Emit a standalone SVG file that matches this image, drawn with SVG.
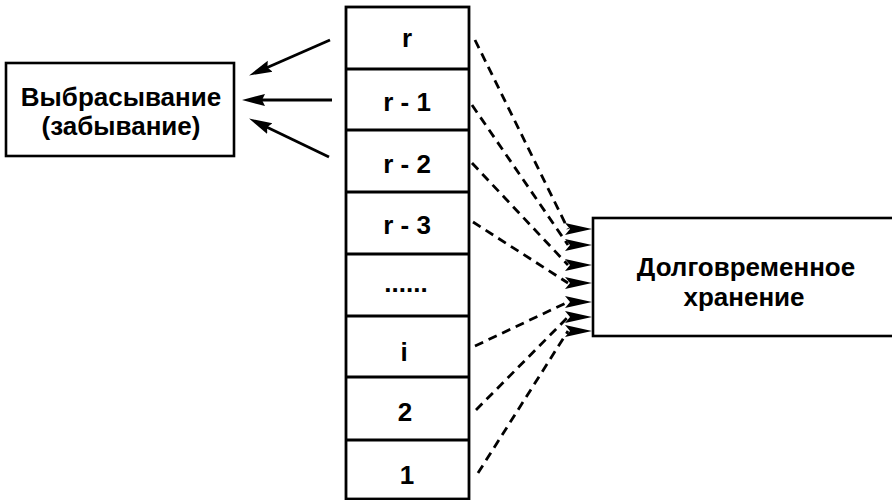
<svg xmlns="http://www.w3.org/2000/svg" width="892" height="500" viewBox="0 0 892 500">
  <style>
    .box { fill: #fff; stroke: #000; stroke-width: 2.6; }
    .cell { fill: none; stroke: #000; stroke-width: 2.8; }
    .lbl { font-family: "Liberation Sans", Arial, sans-serif; font-weight: bold; font-size: 26px; fill: #000; text-anchor: middle; }
    .cl { font-family: "Liberation Sans", Arial, sans-serif; font-weight: bold; font-size: 26px; fill: #000; text-anchor: middle; }
    .solid { stroke: #000; stroke-width: 2.8; fill: none; marker-end: url(#ahL); }
    .dash { stroke: #000; stroke-width: 2.8; fill: none; stroke-dasharray: 9 6; marker-end: url(#ahR); }
  </style>
  <defs>
    <marker id="ahL" markerUnits="userSpaceOnUse" markerWidth="28" markerHeight="16" viewBox="0 -8 28 16" refX="10" refY="0" orient="auto">
      <path d="M0,-6 L23,0 L0,6 L3,0 Z" fill="#000"/>
    </marker>
    <marker id="ahR" markerUnits="userSpaceOnUse" markerWidth="30" markerHeight="16" viewBox="0 -8 30 16" refX="3" refY="0" orient="0">
      <path d="M0,-6 L27,0 L0,6 L5,0 Z" fill="#000"/>
    </marker>
  </defs>

  <g id="discard">
    <rect class="box" x="6" y="63" width="228" height="93"/>
    <text class="lbl" x="121" y="105.5">Выбрасывание</text>
    <text class="lbl" x="121" y="135">(забывание)</text>
  </g>

  <g id="longterm">
    <rect class="box" x="593" y="218" width="310" height="118"/>
    <text class="lbl" x="746" y="276">Долговременное</text>
    <text class="lbl" x="744" y="305.5">хранение</text>
  </g>

  <g id="stack">
    <rect class="cell" x="346" y="7" width="123" height="492"/>
    <line class="cell" x1="346" y1="69" x2="469" y2="69"/>
    <line class="cell" x1="346" y1="130" x2="469" y2="130"/>
    <line class="cell" x1="346" y1="192" x2="469" y2="192"/>
    <line class="cell" x1="346" y1="254" x2="469" y2="254"/>
    <line class="cell" x1="346" y1="316" x2="469" y2="316"/>
    <line class="cell" x1="346" y1="377" x2="469" y2="377"/>
    <line class="cell" x1="346" y1="440" x2="469" y2="440"/>
  </g>
  <g id="cell-r"><text class="cl" x="407" y="47">r</text></g>
  <g id="cell-r1"><text class="cl" x="407" y="111">r - 1</text></g>
  <g id="cell-r2"><text class="cl" x="407" y="173">r - 2</text></g>
  <g id="cell-r3"><text class="cl" x="407" y="234">r - 3</text></g>
  <g id="cell-dots"><text class="cl" x="406" y="292">......</text></g>
  <g id="cell-i"><text class="cl" x="404" y="361">i</text></g>
  <g id="cell-2"><text class="cl" x="405" y="421">2</text></g>
  <g id="cell-1"><text class="cl" x="407" y="484">1</text></g>

  <g id="connectors">
    <line class="solid" x1="330" y1="40" x2="261" y2="70.2"/>
    <line class="solid" x1="332" y1="100" x2="255" y2="100"/>
    <line class="solid" x1="329" y1="157" x2="260.8" y2="124.2"/>

    <line class="dash" x1="475" y1="40" x2="568" y2="229"/>
    <line class="dash" x1="472" y1="105" x2="568" y2="245"/>
    <line class="dash" x1="472" y1="163" x2="568" y2="265"/>
    <line class="dash" x1="473" y1="222" x2="568" y2="283"/>
    <line class="dash" x1="475" y1="346" x2="568" y2="302"/>
    <line class="dash" x1="476" y1="410" x2="568" y2="317"/>
    <line class="dash" x1="478" y1="473" x2="568" y2="331"/>
  </g>
</svg>
